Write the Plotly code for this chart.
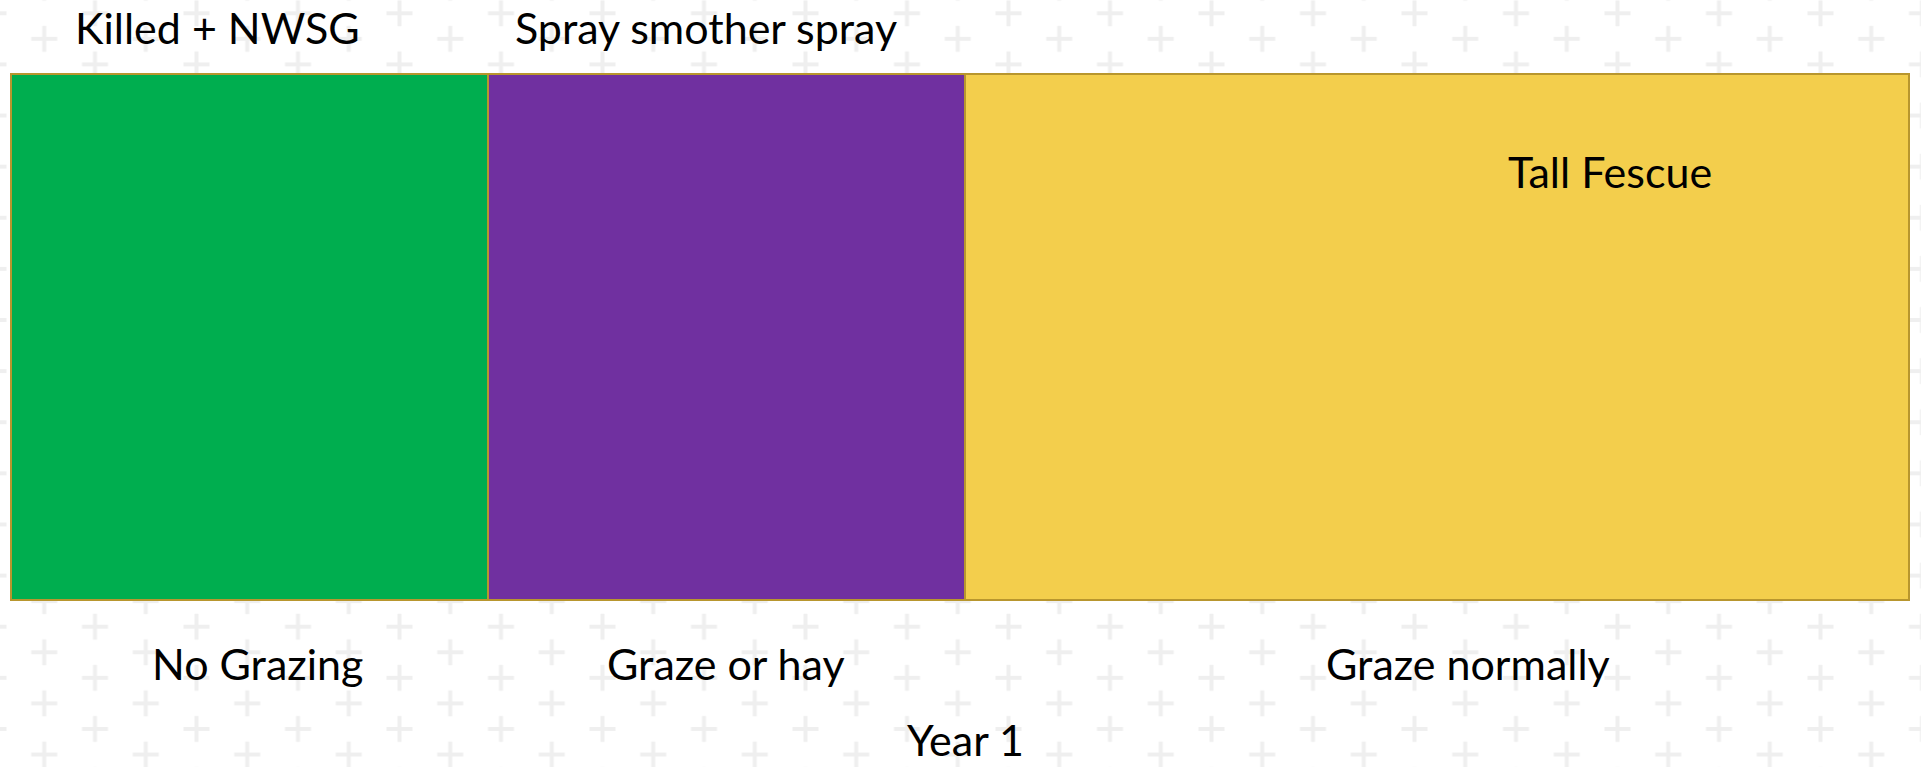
import base64
import plotly.graph_objects as go

# ---- data ----
phases = ["Killed + NWSG", "Spray smother spray", "Tall Fescue"]
management = ["No Grazing", "Graze or hay", "Graze normally"]
durations = [1.0, 1.0, 1.98]
year_label = "Year 1"

# ---- style ----
colors = ["#00AE4F", "#7030A0", "#F3CE4C"]
edge = "#B8962E"
FONT = "Lato"
FS = 43
W, H = 1921, 767
L, R, T, B = 8, 9, 71, 164
pw, ph = W - L - R, H - T - B

# background "+" pattern as inline SVG
dx, dy = 101.5, 25.56
arm, th, col = 26, 4, "#EFEFEF"
tile_pts = [(25.375, 12.78), (76.125, 38.34)]
shapes = []
for (cx, cy) in tile_pts:
    for ox in (-dx, 0, dx):
        for oy in (-2 * dy, 0, 2 * dy):
            x0, y0 = cx + ox, cy + oy
            shapes.append(f'<rect x="{x0-arm/2}" y="{y0-th/2}" width="{arm}" height="{th}" fill="{col}"/>')
            shapes.append(f'<rect x="{x0-th/2}" y="{y0-arm/2}" width="{th}" height="{arm}" fill="{col}"/>')
svg = (f'<svg xmlns="http://www.w3.org/2000/svg" width="{W}" height="{H}" viewBox="0 0 {W} {H}" preserveAspectRatio="none">'
       f'<defs><pattern id="p" patternUnits="userSpaceOnUse" x="69.625" y="0.5" width="{dx}" height="{2*dy}">'
       + "".join(shapes) +
       f'</pattern></defs><rect width="{W}" height="{H}" fill="white"/><rect width="{W}" height="{H}" fill="url(#p)"/></svg>')
src = "data:image/svg+xml;base64," + base64.b64encode(svg.encode()).decode()

fig = go.Figure()
for name, d, c in zip(phases, durations, colors):
    fig.add_trace(go.Bar(
        y=[year_label], x=[d], orientation="h", name=name,
        marker=dict(color=c, line=dict(color=edge, width=2.5)),
        hoverinfo="name"))

total = sum(durations)
bar_px = 1898
pad_x = 3 * total / bar_px
pad_y = 3 / 526

starts = [sum(durations[:i]) for i in range(len(durations))]
centers = [s + d / 2 for s, d in zip(starts, durations)]

def ypaper(px):
    return (H - B - px) / ph

annotations = []
top_shift = [-32, -20, 173]
top_y = [27, 27, 171]
for name, cx, sh, yy in zip(phases, centers, top_shift, top_y):
    annotations.append(dict(text=name, x=cx, xref="x", xshift=sh, y=ypaper(yy), yref="paper",
                            showarrow=False, xanchor="center", yanchor="middle",
                            font=dict(family=FONT, size=FS, color="black")))
bot_shift = [8, 0, 31]
for name, cx, sh in zip(management, centers, bot_shift):
    annotations.append(dict(text=name, x=cx, xref="x", xshift=sh, y=ypaper(663), yref="paper",
                            showarrow=False, xanchor="center", yanchor="middle",
                            font=dict(family=FONT, size=FS, color="black")))
annotations.append(dict(text=year_label, x=0.5, xref="paper", xshift=5, y=ypaper(766), yref="paper",
                        showarrow=False, xanchor="center", yanchor="bottom", borderpad=0,
                        font=dict(family=FONT, size=FS, color="black")))

fig.update_layout(
    width=W, height=H,
    margin=dict(l=L, r=R, t=T, b=B),
    barmode="stack", bargap=0,
    showlegend=False,
    paper_bgcolor="rgba(0,0,0,0)", plot_bgcolor="rgba(0,0,0,0)",
    xaxis=dict(range=[-pad_x, total + pad_x], visible=False, fixedrange=True),
    yaxis=dict(range=[-0.5 - pad_y, 0.5 + pad_y], visible=False, fixedrange=True),
    annotations=annotations,
    images=[dict(source=src, xref="paper", yref="paper",
                 x=-L / pw, y=1 + T / ph, sizex=W / pw, sizey=H / ph,
                 xanchor="left", yanchor="top", sizing="stretch", layer="below")],
    font=dict(family=FONT),
)

fig.write_html("out.html", config={"displayModeBar": False},
               post_script="document.body.style.margin='0';document.body.style.overflow='hidden';")
